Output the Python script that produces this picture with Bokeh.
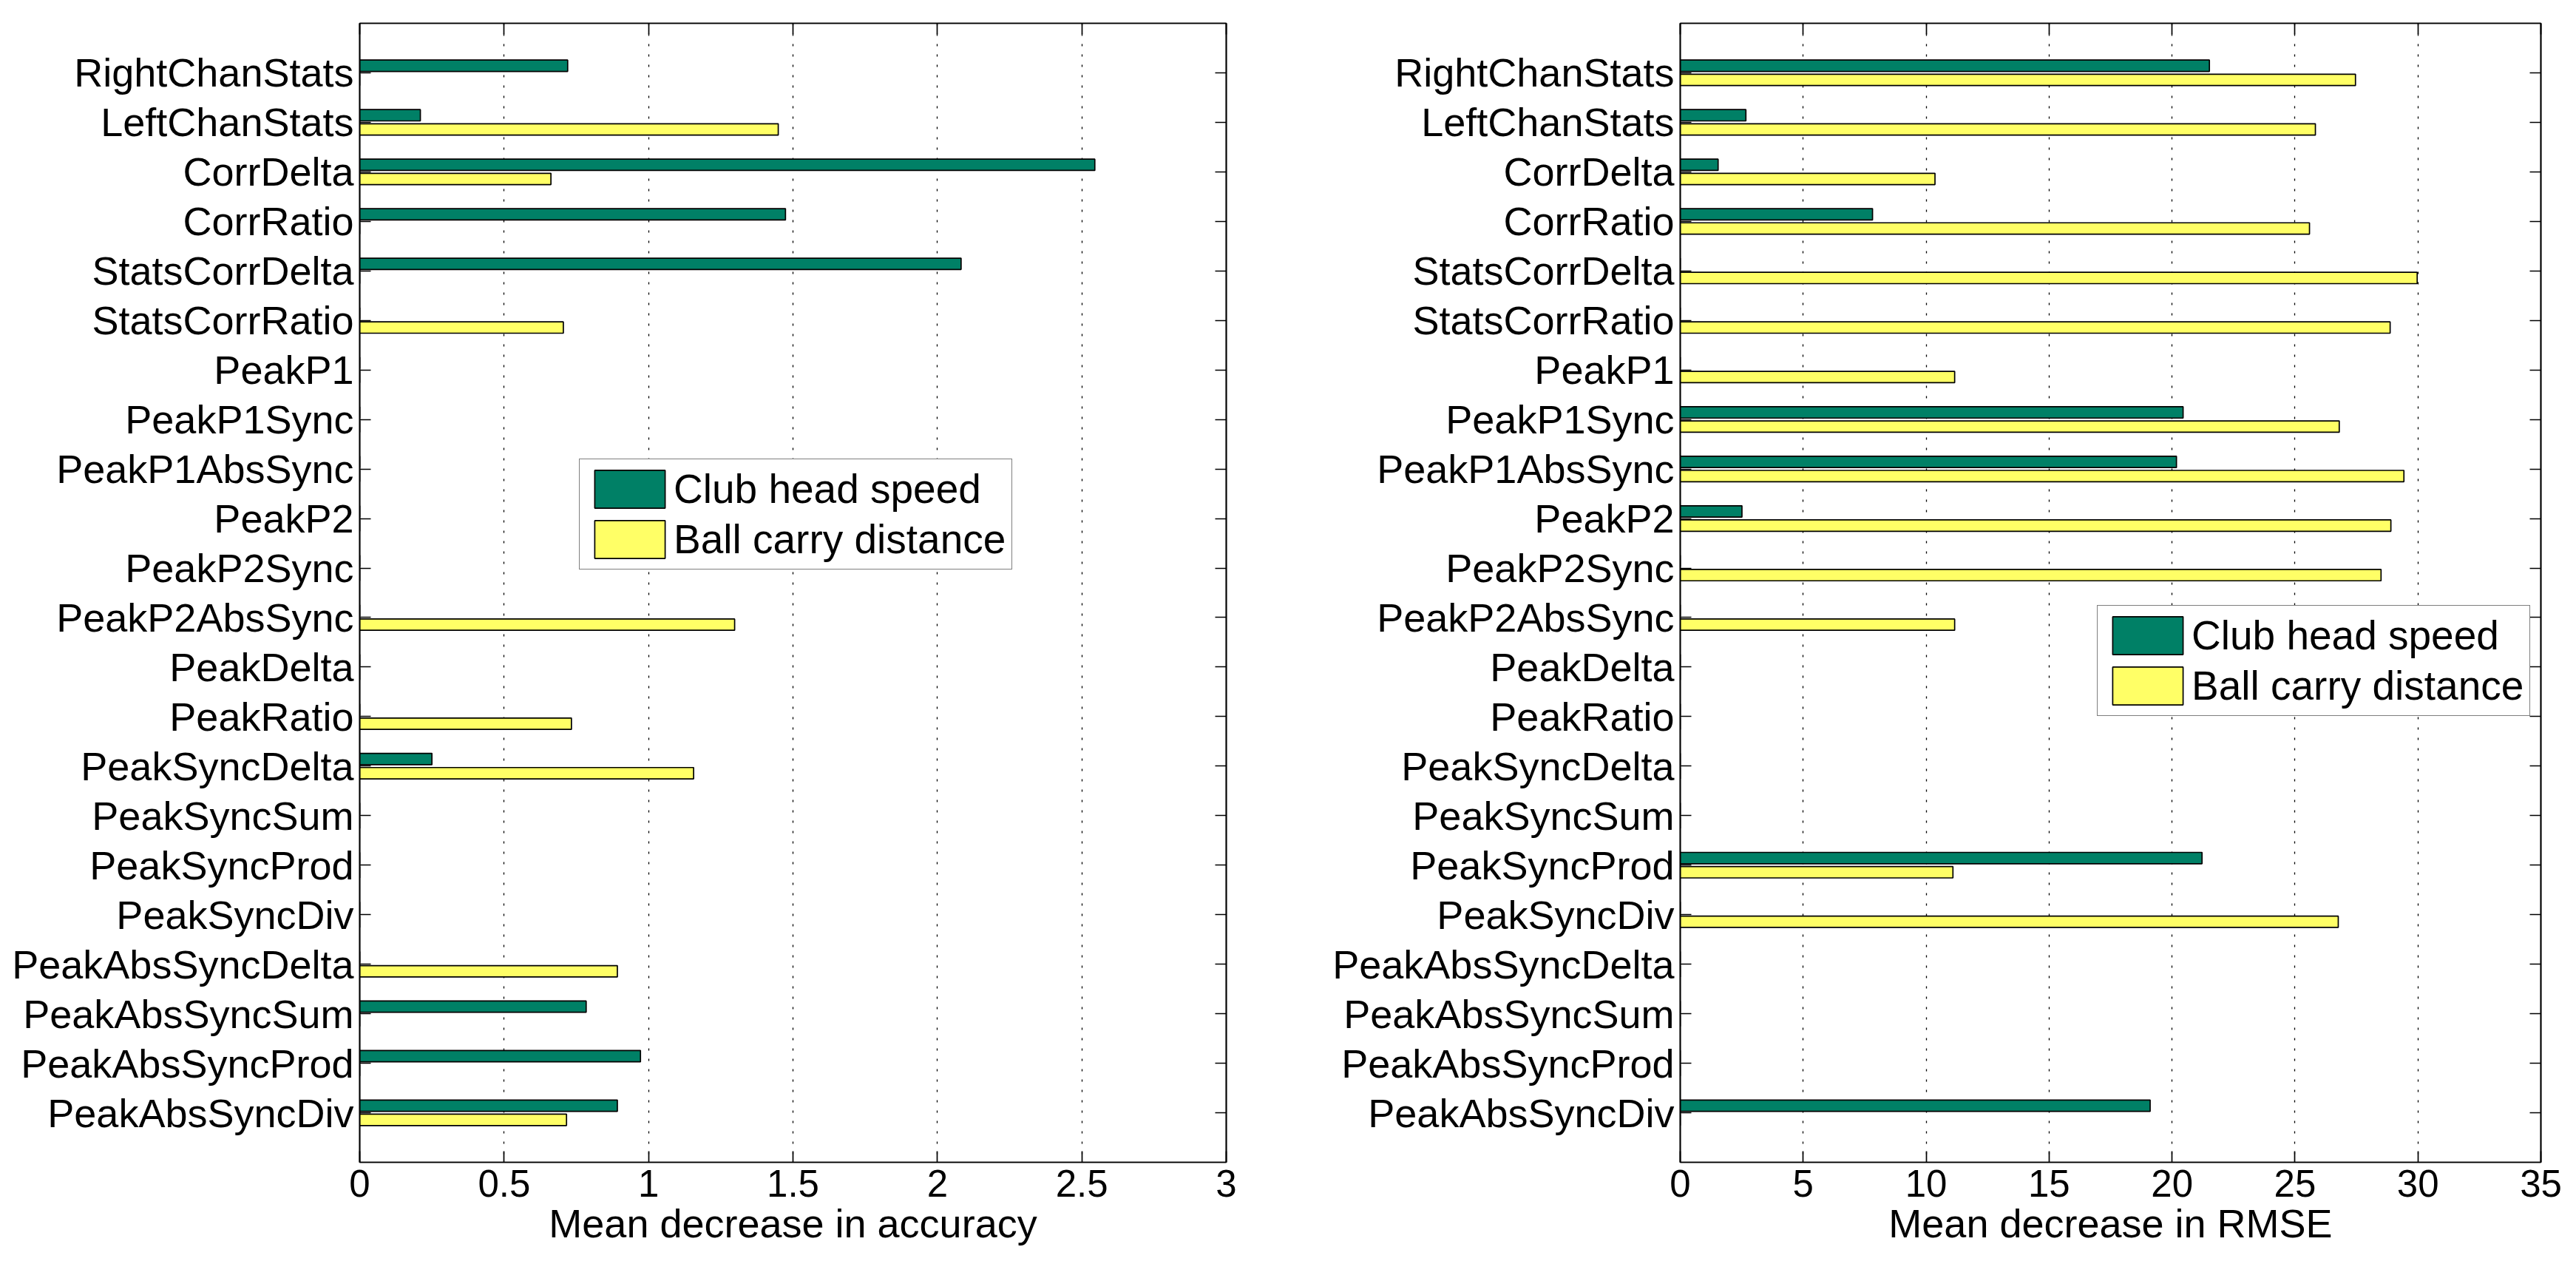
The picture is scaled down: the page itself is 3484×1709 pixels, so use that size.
import numpy as np
from bokeh.layouts import row
from bokeh.models import ColumnDataSource, FixedTicker, LinearAxis, Range1d
from bokeh.plotting import figure
from bokeh.embed import file_html
from bokeh.resources import INLINE

# features, top to bottom
features = ["RightChanStats", "LeftChanStats", "CorrDelta", "CorrRatio", "StatsCorrDelta",
            "StatsCorrRatio", "PeakP1", "PeakP1Sync", "PeakP1AbsSync", "PeakP2", "PeakP2Sync",
            "PeakP2AbsSync", "PeakDelta", "PeakRatio", "PeakSyncDelta", "PeakSyncSum",
            "PeakSyncProd", "PeakSyncDiv", "PeakAbsSyncDelta", "PeakAbsSyncSum",
            "PeakAbsSyncProd", "PeakAbsSyncDiv"]

# mean decrease in accuracy
acc_speed = [0.72, 0.21, 2.545, 1.474, 2.082, 0, 0, 0, 0, 0, 0,
             0, 0, 0, 0.25, 0, 0, 0, 0, 0.784, 0.972, 0.892]
acc_carry = [0, 1.449, 0.662, 0, 0, 0.705, 0, 0, 0, 0, 0,
             1.298, 0, 0.733, 1.156, 0, 0, 0, 0.892, 0, 0, 0.716]

# mean decrease in RMSE
rmse_speed = [21.52, 2.67, 1.54, 7.82, 0, 0, 0, 20.45, 20.18, 2.51, 0,
              0, 0, 0, 0, 0, 21.22, 0, 0, 0, 0, 19.11]
rmse_carry = [27.46, 25.83, 10.36, 25.59, 29.97, 28.87, 11.16, 26.8, 29.43, 28.9, 28.5,
              11.16, 0, 0, 0, 0, 11.09, 26.76, 0, 0, 0, 0]

acc_ticks = [0, 0.5, 1, 1.5, 2, 2.5, 3]
rmse_ticks = [0, 5, 10, 15, 20, 25, 30, 35]

GREEN = "#008066"
YELLOW = "#ffff66"
FONT = "Liberation Sans"
LW = 1.7


def style_axis(ax, ticks):
    ax.ticker = FixedTicker(ticks=ticks)
    ax.major_tick_in = 15
    ax.major_tick_out = 0
    ax.major_tick_line_color = "black"
    ax.major_tick_line_width = LW
    ax.minor_tick_line_color = None
    ax.axis_line_color = "black"
    ax.axis_line_width = LW
    ax.major_label_text_color = "black"
    ax.major_label_text_font = FONT


def make_panel(speed, carry, xticks, xlabel, width, height, borders, legend_loc):
    """MATLAB風の横棒グラフ"""
    n = len(features)
    pos = [int(i) for i in np.arange(1, n + 1)]
    left_b, right_b, top_b, bottom_b = borders
    p = figure(width=width, height=height, output_backend="svg", toolbar_location=None,
               x_range=Range1d(xticks[0], xticks[-1]), y_range=Range1d(n + 1, 0),
               min_border_left=left_b, min_border_right=right_b,
               min_border_top=top_b, min_border_bottom=bottom_b)
    p.background_fill_color = "white"
    p.outline_line_color = "black"
    p.outline_line_width = LW

    src_s = ColumnDataSource(dict(y=np.array(pos) - 0.143, v=speed))
    src_c = ColumnDataSource(dict(y=np.array(pos) + 0.143, v=carry))
    p.hbar(y="y", left=0, right="v", height=0.229, source=src_s, fill_color=GREEN,
           line_color="black", line_width=LW, legend_label="Club head speed")
    p.hbar(y="y", left=0, right="v", height=0.229, source=src_c, fill_color=YELLOW,
           line_color="black", line_width=LW, legend_label="Ball carry distance")

    bottom = p.below[0]
    left = p.left[0]
    # mirrored axes (ticks only, no labels)
    top = LinearAxis()
    right = LinearAxis()
    p.add_layout(top, "above")
    p.add_layout(right, "right")

    style_axis(bottom, xticks)
    style_axis(top, xticks)
    style_axis(left, pos)
    style_axis(right, pos)
    for ax in (top, right):
        ax.major_label_text_font_size = "1px"
        ax.major_label_text_color = None
        ax.major_label_standoff = 0

    bottom.major_label_text_font_size = "51px"
    bottom.major_label_standoff = 10
    bottom.axis_label = xlabel
    bottom.axis_label_text_font = FONT
    bottom.axis_label_text_font_size = "54px"
    bottom.axis_label_text_font_style = "normal"
    bottom.axis_label_text_color = "black"
    bottom.axis_label_standoff = 3

    left.major_label_text_font_size = "54px"
    left.major_label_standoff = 8
    left.major_label_overrides = {i: name for i, name in zip(pos, features)}

    p.xgrid.ticker = FixedTicker(ticks=xticks[1:-1])
    p.xgrid.grid_line_color = "black"
    p.xgrid.grid_line_width = 1.3
    p.xgrid.grid_line_dash = "3 11"
    p.ygrid.grid_line_color = None

    lg = p.legend[0]
    lg.location = legend_loc
    lg.margin = 0
    lg.padding = 8
    lg.spacing = 4
    lg.glyph_width = 119
    lg.glyph_height = 64
    lg.label_standoff = 0
    lg.label_text_font = FONT
    lg.label_text_font_size = "55px"
    lg.label_text_color = "black"
    lg.border_line_color = "black"
    lg.border_line_width = LW
    lg.background_fill_color = "white"
    lg.background_fill_alpha = 1.0
    return p


p1 = make_panel(acc_speed, acc_carry, acc_ticks, "Mean decrease in accuracy",
                1742, 1709, (486, 84, 16, 138), (297, 801))
p2 = make_panel(rmse_speed, rmse_carry, rmse_ticks, "Mean decrease in RMSE",
                1742, 1709, (530, 48, 31, 135), (564, 603))

layout = row(p1, p2)
open("out.html", "w").write(file_html(layout, INLINE))
